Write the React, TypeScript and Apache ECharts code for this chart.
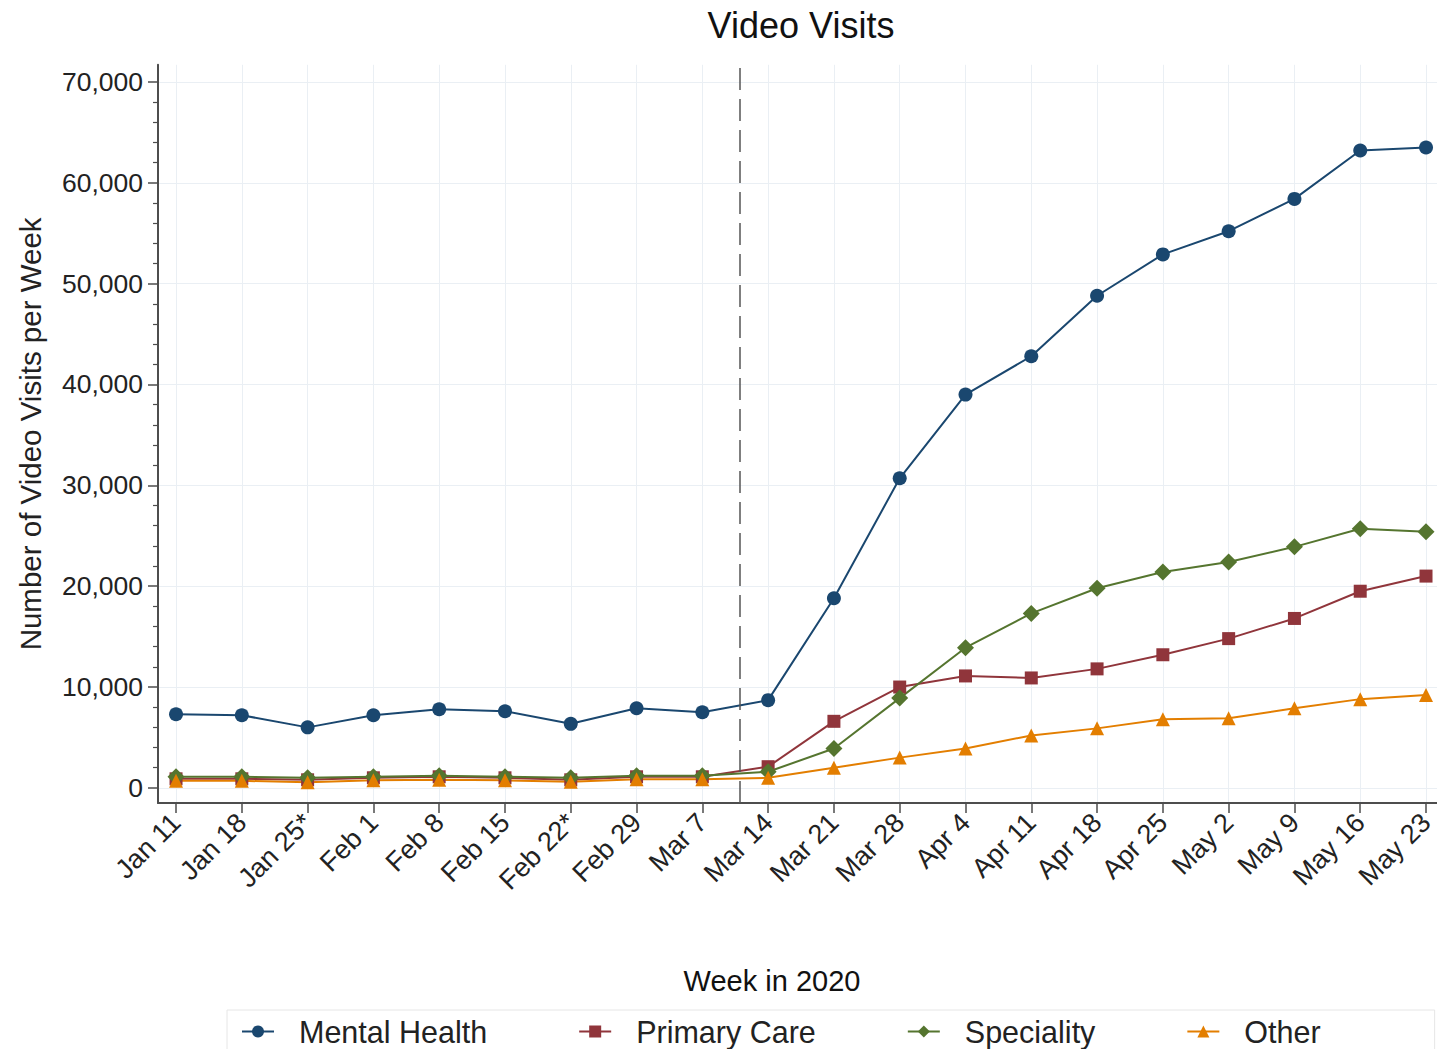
import React, { useEffect, useRef } from "react";
import * as echarts from "echarts";

// Week labels (asterisk marks holiday weeks)
const weeks = [
  "Jan 11", "Jan 18", "Jan 25*", "Feb 1", "Feb 8", "Feb 15", "Feb 22*", "Feb 29",
  "Mar 7", "Mar 14", "Mar 21", "Mar 28", "Apr 4", "Apr 11", "Apr 18", "Apr 25",
  "May 2", "May 9", "May 16", "May 23",
];

// Weekly video visits by service line
const mentalHealth = [
  7300, 7200, 6000, 7200, 7800, 7600, 6350, 7900, 7500, 8700,
  18800, 30700, 39000, 42800, 48800, 52900, 55200, 58400, 63200, 63500,
];
const primaryCare = [
  900, 900, 800, 1000, 1100, 1000, 800, 1100, 1100, 2100,
  6600, 10000, 11100, 10900, 11800, 13200, 14800, 16800, 19500, 21000,
];
const speciality = [
  1100, 1100, 1000, 1100, 1200, 1100, 1000, 1200, 1200, 1600,
  3900, 8900, 13900, 17300, 19800, 21400, 22400, 23900, 25700, 25400,
];
const other = [
  700, 700, 550, 750, 800, 750, 600, 850, 850, 1000,
  2000, 3000, 3900, 5200, 5900, 6800, 6900, 7900, 8800, 9200,
];

// Axis ticks
const yMajorTicks = [0, 10000, 20000, 30000, 40000, 50000, 60000, 70000];
const yMinorTicks = Array.from({ length: 36 }, (_, i) => i * 2000).filter(
  (v) => v % 10000 !== 0
);
const weekIndex = weeks.map((_, i) => i);

// Position of the reference line between Mar 7 and Mar 14
const emergencyLine = 8.57;

const FONT = "'Liberation Sans', Arial, Helvetica, sans-serif";
const AXIS_COLOR = "#4d4d4d";
const GRID_COLOR = "#eaeff4";

export default function App() {
  const ref = useRef<HTMLDivElement>(null);

  useEffect(() => {
    document.body.style.margin = "0";
    if (!ref.current) return;
    const chart = echarts.init(ref.current, undefined, { renderer: "svg" });

    const toPairs = (vals: number[]) => vals.map((v, i) => [i, v]);

    const makeSeries = (
      name: string,
      vals: number[],
      color: string,
      symbol: string,
      symbolSize: number
    ) => ({
      name,
      type: "line",
      data: toPairs(vals),
      symbol,
      symbolSize,
      showSymbol: true,
      itemStyle: { color },
      lineStyle: { color, width: 2 },
    });

    chart.setOption({
      animation: false,
      backgroundColor: "#ffffff",
      textStyle: { fontFamily: FONT },
      grid: {
        left: 158,
        right: 0,
        top: 64.8,
        bottom: 246,
        containLabel: false,
        outerBoundsMode: "none",
      },
      xAxis: {
        type: "value",
        min: -0.274,
        max: 19.167,
        axisLine: { onZero: false, lineStyle: { color: AXIS_COLOR, width: 2 } },
        axisTick: {
          customValues: weekIndex,
          length: 10,
          lineStyle: { color: AXIS_COLOR, width: 1.5 },
        },
        axisLabel: {
          customValues: weekIndex,
          formatter: (v: number) => weeks[Math.round(v)] ?? "",
          rotate: 45,
          margin: 15,
          fontSize: 27,
          color: "#222",
          fontFamily: FONT,
        },
        splitLine: { show: true, lineStyle: { color: GRID_COLOR, width: 1 } },
      },
      yAxis: [
        {
          type: "value",
          min: -1500,
          max: 71700,
          position: "left",
          name: "Number of Video Visits per Week",
          nameLocation: "middle",
          nameGap: 113,
          nameTextStyle: { fontSize: 29.5, color: "#222", fontFamily: FONT },
          axisLine: { show: true, onZero: false, lineStyle: { color: AXIS_COLOR, width: 2 } },
          axisTick: {
            show: true,
            customValues: yMajorTicks,
            length: 10,
            lineStyle: { color: AXIS_COLOR, width: 1.5 },
          },
          axisLabel: {
            customValues: yMajorTicks,
            formatter: (v: number) => v.toLocaleString("en-US"),
            margin: 15,
            fontSize: 26.5,
            color: "#222",
            fontFamily: FONT,
          },
          splitLine: { show: true, lineStyle: { color: GRID_COLOR, width: 1 } },
        },
        {
          type: "value",
          min: -1500,
          max: 71700,
          position: "left",
          offset: 0,
          axisLine: { show: false, onZero: false },
          axisTick: {
            show: true,
            customValues: yMinorTicks,
            length: 5,
            lineStyle: { color: AXIS_COLOR, width: 1.2 },
          },
          axisLabel: { show: false },
          splitLine: { show: false },
        },
      ],
      legend: {
        left: 227,
        top: 1010,
        orient: "horizontal",
        itemWidth: 32,
        itemHeight: 15,
        itemGap: 91,
        padding: [6, 114, 8, 14],
        borderColor: "#e6e6e6",
        borderWidth: 1,
        textStyle: {
          fontSize: 30.5,
          color: "#222",
          fontFamily: FONT,
          padding: [0, 0, 0, 20],
        },
        data: ["Mental Health", "Primary Care", "Speciality", "Other"],
      },
      graphic: [
        {
          type: "text",
          x: 801,
          y: 25,
          style: {
            text: "Video Visits",
            fontSize: 36,
            fontFamily: FONT,
            fill: "#111",
            textAlign: "center",
            textVerticalAlign: "middle",
          },
        },
        {
          type: "text",
          x: 772,
          y: 981,
          style: {
            text: "Week in 2020",
            fontSize: 29,
            fontFamily: FONT,
            fill: "#111",
            textAlign: "center",
            textVerticalAlign: "middle",
          },
        },
      ],
      series: [
        {
          ...makeSeries("Mental Health", mentalHealth, "#1a476f", "circle", 14),
          markLine: {
            silent: true,
            symbol: "none",
            label: { show: false },
            lineStyle: { color: "#555", width: 1.5, type: [22, 9] },
            data: [{ xAxis: emergencyLine }],
          },
        },
        makeSeries("Primary Care", primaryCare, "#90353b", "rect", 13),
        makeSeries("Speciality", speciality, "#55752f", "diamond", 17),
        makeSeries("Other", other, "#e37e00", "triangle", 14),
      ],
    });

    return () => chart.dispose();
  }, []);

  return <div ref={ref} style={{ width: 1437, height: 1049 }} />;
}
